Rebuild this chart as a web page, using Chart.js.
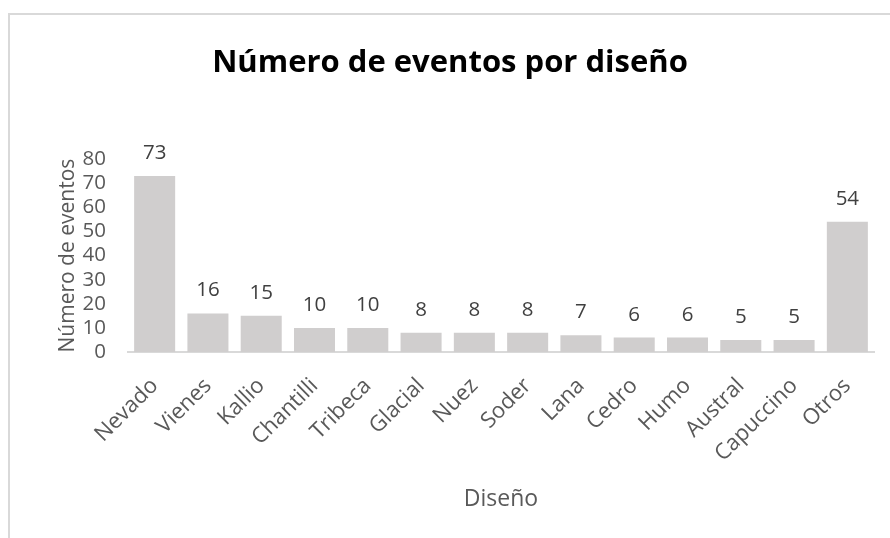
<!DOCTYPE html>
<html>
<head>
<meta charset="utf-8">
<script src="https://cdn.jsdelivr.net/npm/chart.js@4"></script>
<style>
  html, body { margin: 0; padding: 0; background: #fff; overflow: hidden; }
  #wrap { position: relative; width: 890px; height: 538px; }
  #frame { position: absolute; left: 8px; top: 13px; width: 900px; height: 600px;
           border: 2px solid #d9d9d9; box-sizing: border-box; }
  canvas { position: absolute; left: 0; top: 0; }
</style>
</head>
<body>
<div id="wrap">
  <div id="frame"></div>
  <canvas id="chart" width="890" height="538"></canvas>
</div>
<script>
// Eventos registrados por diseño
const designs = ['Nevado', 'Vienes', 'Kallio', 'Chantilli', 'Tribeca', 'Glacial', 'Nuez',
                 'Soder', 'Lana', 'Cedro', 'Humo', 'Austral', 'Capuccino', 'Otros'];
const eventCounts = [73, 16, 15, 10, 10, 8, 8, 8, 7, 6, 6, 5, 5, 54];
const yTicks = [0, 10, 20, 30, 40, 50, 60, 70, 80];

const FONT = "'Open Sans', 'DejaVu Sans', sans-serif";

// values printed above each bar
const valueLabels = {
  id: 'valueLabels',
  afterDatasetsDraw(chart) {
    const { ctx } = chart;
    const meta = chart.getDatasetMeta(0);
    ctx.save();
    ctx.font = `20.5px ${FONT}`;
    ctx.fillStyle = '#404040';
    ctx.textAlign = 'center';
    ctx.textBaseline = 'alphabetic';
    meta.data.forEach((bar, i) => {
      ctx.fillText(String(eventCounts[i]), bar.x, bar.y - 17);
    });
    ctx.restore();
  }
};

new Chart(document.getElementById('chart').getContext('2d'), {
  type: 'bar',
  data: {
    labels: designs,
    datasets: [{
      data: eventCounts,
      backgroundColor: '#d0cece',
      barPercentage: 0.77,
      categoryPercentage: 1
    }]
  },
  options: {
    responsive: false,
    animation: false,
    layout: { padding: { left: 26, right: 16, top: 0, bottom: 0 } },
    plugins: {
      legend: { display: false },
      tooltip: { enabled: false },
      title: {
        display: true,
        text: 'Número de eventos por diseño',
        color: '#000',
        font: { family: FONT, size: 31, weight: 'bold' },
        padding: { top: 45, bottom: 77 }
      }
    },
    scales: {
      x: {
        grid: { display: false, drawTicks: false },
        border: { display: true, color: '#d9d9d9', width: 2 },
        ticks: {
          color: '#595959',
          font: { family: FONT, size: 22 },
          minRotation: 45,
          maxRotation: 45,
          autoSkip: false,
          padding: 21
        },
        title: {
          display: true,
          text: 'Diseño',
          color: '#595959',
          font: { family: FONT, size: 23 },
          padding: { top: 0, bottom: 25 }
        },
        afterFit(scale) { scale.height = 538 - 352; }
      },
      y: {
        min: 0,
        max: 80,
        afterBuildTicks(scale) { scale.ticks = yTicks.map(v => ({ value: v })); },
        grid: { display: false, drawTicks: false },
        border: { display: false },
        ticks: {
          color: '#595959',
          font: { family: FONT, size: 20.5 },
          autoSkip: false,
          padding: 22
        },
        title: {
          display: true,
          text: 'Número de eventos',
          color: '#595959',
          font: { family: FONT, size: 21 },
          padding: { top: 29, bottom: 0 }
        },
        afterFit(scale) { scale.width = 102; }
      }
    }
  },
  plugins: [valueLabels]
});
</script>
</body>
</html>
